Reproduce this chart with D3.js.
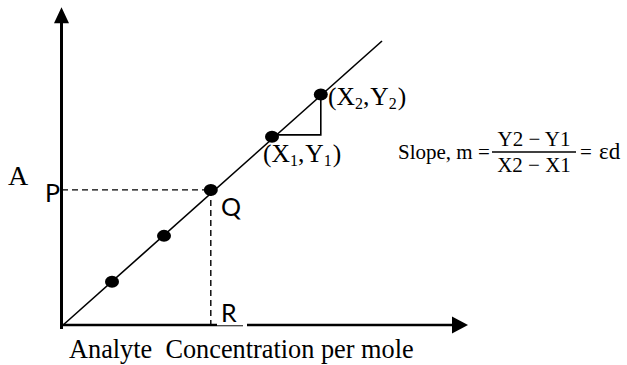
<!DOCTYPE html>
<html>
<head>
<meta charset="utf-8">
<script src="https://cdn.jsdelivr.net/npm/d3@7"></script>
<style>
  body { margin: 0; background: #fff; }
  svg { display: block; }
</style>
</head>
<body>
<svg id="chart" width="627" height="365"></svg>
<script>
// Calibration standards: analyte concentration vs absorbance
const concentration = [1.25, 2.55, 3.72, 5.25, 6.47];
const absorbance    = [1.24, 2.53, 3.82, 5.31, 6.50];
// Beer–Lambert fit line end points (concentration, absorbance)
const fitX = [0, 8];
const fitY = [0, 8];
// Axis extents in data units
const xAxisEnd = 10.15;
const yAxisEnd = 8.95;
// Index of the unknown sample (Q) and the two slope points
const unknownIndex = 2;
const slopeIndex1 = 3;
const slopeIndex2 = 4;

const svg = d3.select("#chart");
svg.append("rect").attr("width", 627).attr("height", 365).attr("fill", "#fff");

const x = d3.scaleLinear().domain([0, 8]).range([62, 382]);
const y = d3.scaleLinear().domain([0, 8]).range([326, 41]);

const serif = "'Liberation Serif', 'Times New Roman', serif";
const sans = "Lato, 'Noto Sans', sans-serif";

// Fit line
svg.append("line")
  .attr("x1", x(fitX[0])).attr("y1", y(fitY[0]))
  .attr("x2", x(fitX[1])).attr("y2", y(fitY[1]))
  .attr("stroke", "#000").attr("stroke-width", 1.6);

// Dashed guides from the unknown sample to the axes
const qx = x(concentration[unknownIndex]);
const qy = y(absorbance[unknownIndex]);
svg.append("line")
  .attr("x1", x(0)).attr("y1", qy).attr("x2", qx).attr("y2", qy)
  .attr("stroke", "#000").attr("stroke-width", 1.4).attr("stroke-dasharray", "6,4");
svg.append("line")
  .attr("x1", qx).attr("y1", qy).attr("x2", qx).attr("y2", y(0))
  .attr("stroke", "#000").attr("stroke-width", 1.4).attr("stroke-dasharray", "6,4");

// Slope triangle
const p1 = [x(concentration[slopeIndex1]), y(absorbance[slopeIndex1])];
const p2 = [x(concentration[slopeIndex2]), y(absorbance[slopeIndex2])];
svg.append("path")
  .attr("d", `M${p1[0]},${p1[1] - 2}H${p2[0]}V${p2[1]}`)
  .attr("fill", "none").attr("stroke", "#000").attr("stroke-width", 1.6);

// Axes with arrowheads
const ax0 = x(0) - 0.5, ay0 = y(0) - 1;
const xTip = x(xAxisEnd), yTip = y(yAxisEnd);
svg.append("line")
  .attr("x1", ax0).attr("y1", ay0 + 4).attr("x2", ax0).attr("y2", yTip + 15)
  .attr("stroke", "#000").attr("stroke-width", 3);
svg.append("path")
  .attr("d", `M${ax0},${yTip}L${ax0 - 7.5},${yTip + 16}L${ax0 + 7.5},${yTip + 16}Z`)
  .attr("fill", "#000");
svg.append("line")
  .attr("x1", ax0 - 1.5).attr("y1", ay0).attr("x2", xTip - 15).attr("y2", ay0)
  .attr("stroke", "#000").attr("stroke-width", 2.5);
svg.append("path")
  .attr("d", `M${xTip},${ay0}L${xTip - 16},${ay0 - 8.5}L${xTip - 16},${ay0 + 8.5}Z`)
  .attr("fill", "#000");

// Data points
svg.selectAll("ellipse.pt")
  .data(concentration.map((c, i) => [c, absorbance[i]]))
  .join("ellipse")
  .attr("class", "pt")
  .attr("cx", d => x(d[0])).attr("cy", d => y(d[1]))
  .attr("rx", 7).attr("ry", 6)
  .attr("fill", "#000");

// Label box for R (white background over the axis)
svg.append("rect").attr("x", 217).attr("y", 302).attr("width", 26).attr("height", ay0 - 302 + 0.3).attr("fill", "#fff");
svg.append("rect").attr("x", 243).attr("y", 302).attr("width", 4).attr("height", ay0 - 302 + 2).attr("fill", "#fff");

// Letter labels
svg.append("text").attr("x", 8).attr("y", 185).attr("font-family", serif).attr("font-size", 28).text("A");
svg.append("text").attr("x", 45).attr("y", 202).attr("font-family", sans).attr("font-size", 25).text("P");
svg.append("text").attr("x", 221).attr("y", 216).attr("font-family", sans).attr("font-size", 25).text("Q");
svg.append("text").attr("x", 221).attr("y", 322).attr("font-family", sans).attr("font-size", 25).text("R");

// Coordinate labels with subscripts
function coordLabel(px, py, sub) {
  const t = svg.append("text").attr("x", px).attr("y", py)
    .attr("font-family", serif).attr("font-size", 25.5);
  t.append("tspan").text("(X");
  t.append("tspan").attr("font-size", 16).attr("dy", 4).text(sub);
  t.append("tspan").attr("dy", -4).text(",");
  t.append("tspan").attr("dx", 1).text("Y");
  t.append("tspan").attr("font-size", 16).attr("dy", 4).text(sub);
  t.append("tspan").attr("dy", -4).attr("dx", 1).text(")");
}
coordLabel(328, 105, "2");
coordLabel(263, 162, "1");

// X-axis title
svg.append("text").attr("x", 69).attr("y", 358)
  .attr("font-family", serif).attr("font-size", 26.3)
  .style("white-space", "pre")
  .text("Analyte  Concentration per mole");

// Slope formula
const mathFont = "'Liberation Serif', serif";
svg.append("text").attr("x", 398).attr("y", 159).attr("font-family", mathFont).attr("font-size", 21)
  .text("Slope, m =");
svg.append("text").attr("x", 534).attr("y", 146).attr("text-anchor", "middle")
  .attr("font-family", mathFont).attr("font-size", 21).style("white-space", "pre").text("Y2 \u2212 Y1");
svg.append("line").attr("x1", 492).attr("x2", 576).attr("y1", 152).attr("y2", 152)
  .attr("stroke", "#000").attr("stroke-width", 1.5);
svg.append("text").attr("x", 534).attr("y", 172).attr("text-anchor", "middle")
  .attr("font-family", mathFont).attr("font-size", 21).style("white-space", "pre").text("X2 \u2212 X1");
svg.append("text").attr("x", 580).attr("y", 159).attr("font-family", mathFont).attr("font-size", 21)
  .text("=");
svg.append("text").attr("x", 599).attr("y", 159).attr("font-family", mathFont).attr("font-size", 23)
  .text("\u03B5d");
</script>
</body>
</html>
